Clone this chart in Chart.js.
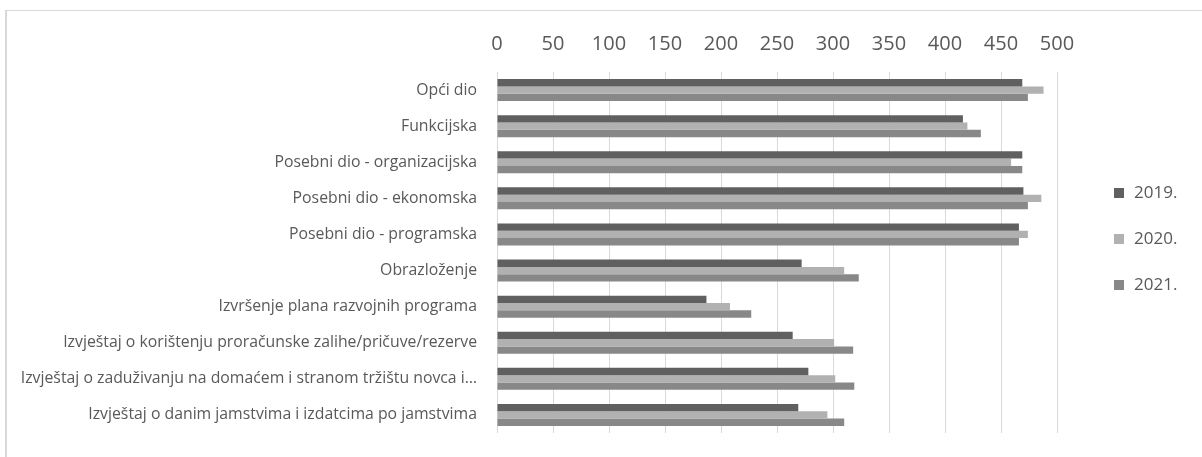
<!DOCTYPE html>
<html>
<head>
<meta charset="utf-8">
<script src="https://cdn.jsdelivr.net/npm/chart.js@4/dist/chart.umd.min.js"></script>
<style>
  html, body { margin: 0; padding: 0; background: #ffffff; overflow: hidden; }
  #frame { position: absolute; left: 5px; top: 10px; width: 1300px; height: 600px;
           border-left: 2px solid #d9d9d9; border-top: 1px solid #d9d9d9; }
  #c { position: absolute; left: 0; top: 0; }
</style>
</head>
<body>
<div id="frame"></div>
<canvas id="c" width="1202" height="457"></canvas>
<script>
const categories = [
  "Opći dio",
  "Funkcijska",
  "Posebni dio - organizacijska",
  "Posebni dio - ekonomska",
  "Posebni dio - programska",
  "Obrazloženje",
  "Izvršenje plana razvojnih programa",
  "Izvještaj o korištenju proračunske zalihe/pričuve/rezerve",
  "Izvještaj o zaduživanju na domaćem i stranom tržištu novca i…",
  "Izvještaj o danim jamstvima i izdatcima po jamstvima"
];
const seriesNames = ["2019.", "2020.", "2021."];
const values2019 = [469, 416, 469, 470, 466, 272, 187, 264, 278, 269];
const values2020 = [488, 420, 459, 486, 474, 310, 208, 301, 302, 295];
const values2021 = [474, 432, 469, 474, 466, 323, 227, 318, 319, 310];
const xTicks = [0, 50, 100, 150, 200, 250, 300, 350, 400, 450, 500];

const colors = ["#606060", "#b1b1b1", "#888888"];
const textColor = "#595959";
const FONT = "'Open Sans', 'Liberation Sans', sans-serif";

const legendPlugin = {
  id: 'customLegend',
  afterDraw(chart) {
    const ctx = chart.ctx;
    ctx.save();
    ctx.font = "17px " + FONT;
    ctx.textBaseline = 'middle';
    ctx.textAlign = 'left';
    const ys = [193, 239, 285];
    chart.data.datasets.forEach((ds, i) => {
      ctx.fillStyle = ds.backgroundColor;
      ctx.fillRect(1114, ys[i] - 5, 10, 10);
      ctx.fillStyle = textColor;
      ctx.fillText(ds.label, 1134, ys[i]);
    });
    ctx.restore();
  }
};

new Chart(document.getElementById('c'), {
  type: 'bar',
  data: {
    labels: categories,
    datasets: [
      { label: seriesNames[0], data: values2019, backgroundColor: colors[0] },
      { label: seriesNames[1], data: values2020, backgroundColor: colors[1] },
      { label: seriesNames[2], data: values2021, backgroundColor: colors[2] }
    ]
  },
  options: {
    indexAxis: 'y',
    responsive: false,
    animation: false,
    devicePixelRatio: 1,
    categoryPercentage: 0.61,
    barPercentage: 1.0,
    layout: { padding: { left: 0, top: 0, right: 145, bottom: 24 } },
    plugins: {
      legend: { display: false },
      tooltip: { enabled: false }
    },
    scales: {
      x: {
        position: 'top',
        min: 0,
        max: 500,
        afterBuildTicks(scale) { scale.ticks = xTicks.map(v => ({ value: v })); },
        afterFit(scale) { scale.height = 72; scale.paddingLeft = 0; scale.paddingRight = 0; },
        grid: { color: '#d9d9d9', lineWidth: 1, drawTicks: false },
        border: { display: false },
        ticks: {
          color: textColor,
          font: { family: FONT, size: 20 },
          padding: 16,
          maxRotation: 0
        }
      },
      y: {
        afterFit(scale) { scale.width = 497; scale.paddingTop = 0; scale.paddingBottom = 0; },
        grid: { display: false, drawTicks: false },
        border: { display: false },
        ticks: {
          color: textColor,
          font: { family: FONT, size: 15.8 },
          padding: 20,
          autoSkip: false
        }
      }
    }
  },
  plugins: [legendPlugin]
});
</script>
</body>
</html>
